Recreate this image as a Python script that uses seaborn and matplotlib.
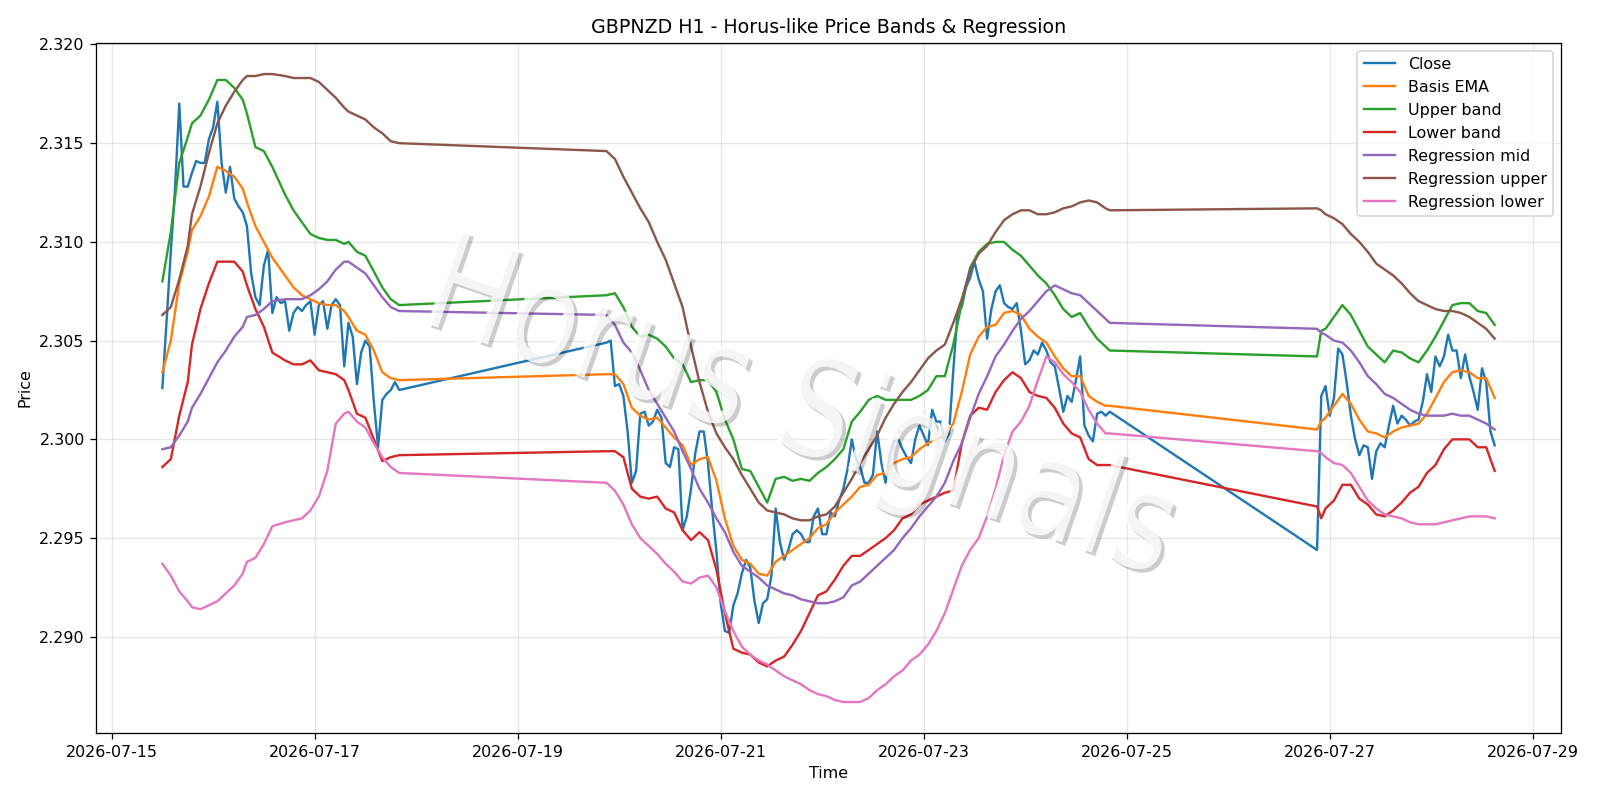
import pandas as pd
import matplotlib
matplotlib.use("Agg")
import matplotlib.pyplot as plt
import matplotlib.dates as mdates
import matplotlib.patheffects as pe
import matplotlib.colors as mcolors
from matplotlib.transforms import Affine2D
import seaborn as sns

# three trading sessions of hourly bars (weekends are skipped)
seg_starts = ["2026-07-15 12:00", "2026-07-19 21:00", "2026-07-26 21:00"]

close_seg1 = [2.3026, 2.3060, 2.3095, 2.3127, 2.3170, 2.3128, 2.3128, 2.3135, 2.3141, 2.3140,
              2.3140, 2.3152, 2.3158, 2.3171, 2.3140, 2.3125, 2.3138, 2.3122, 2.3118, 2.3115,
              2.3108, 2.3084, 2.3072, 2.3068, 2.3088, 2.3096, 2.3064, 2.3072, 2.3069, 2.3070,
              2.3055, 2.3064, 2.3067, 2.3065, 2.3068, 2.3070, 2.3053, 2.3068, 2.3070, 2.3056,
              2.3068, 2.3071, 2.3068, 2.3037, 2.3059, 2.3052, 2.3028, 2.3044, 2.3050, 2.3047,
              2.3019, 2.2996, 2.3020, 2.3023, 2.3025, 2.3029, 2.3025]
close_seg2 = [2.3049, 2.3050, 2.3027, 2.3028, 2.3022, 2.3004, 2.2978, 2.2984, 2.3013, 2.3014,
              2.3007, 2.3009, 2.3015, 2.3011, 2.2988, 2.2986, 2.2996, 2.2995, 2.2954, 2.2961,
              2.2975, 2.2993, 2.3004, 2.3004, 2.2988, 2.2964, 2.2943, 2.2917, 2.2903, 2.2902,
              2.2916, 2.2922, 2.2932, 2.2939, 2.2935, 2.2918, 2.2907, 2.2917, 2.2919, 2.2931,
              2.2965, 2.2948, 2.2939, 2.2944, 2.2952, 2.2954, 2.2952, 2.2948, 2.2948, 2.2961,
              2.2965, 2.2952, 2.2952, 2.2963, 2.2961, 2.2969, 2.2975, 2.2985, 2.3000, 2.2990,
              2.2986, 2.2978, 2.2978, 2.2982, 2.3004, 2.2988, 2.2978, 2.2992, 2.2999, 2.3000,
              2.2995, 2.2991, 2.2988, 2.3000, 2.3007, 2.3002, 2.2997, 2.3015, 2.3009, 2.3009,
              2.2999, 2.3003, 2.3035, 2.3064, 2.3067, 2.3077, 2.3082, 2.3090, 2.3081, 2.3075,
              2.3051, 2.3066, 2.3075, 2.3078, 2.3069, 2.3067, 2.3066, 2.3069, 2.3055, 2.3038,
              2.3040, 2.3045, 2.3043, 2.3049, 2.3045, 2.3039, 2.3037, 2.3026, 2.3014, 2.3022,
              2.3019, 2.3030, 2.3042, 2.3007, 2.3002, 2.2999, 2.3013, 2.3014, 2.3012, 2.3014]
close_seg3 = [2.2944, 2.3022, 2.3027, 2.3012, 2.3021, 2.3046, 2.3043, 2.3029, 2.3012, 2.3000,
              2.2992, 2.2997, 2.2996, 2.2980, 2.2994, 2.2998, 2.2996, 2.3007, 2.3017, 2.3008,
              2.3012, 2.3010, 2.3007, 2.3009, 2.3010, 2.3019, 2.3033, 2.3024, 2.3042, 2.3037,
              2.3042, 2.3053, 2.3045, 2.3045, 2.3031, 2.3043, 2.3032, 2.3024, 2.3015, 2.3036,
              2.3029, 2.3004, 2.2997]

# hours (from each session start) at which the indicator lines were read
ind_hours_seg1 = [0, 2, 4, 6, 7, 9, 11, 13, 15, 17, 19, 20, 22, 24, 26,
                  29, 31, 33, 35, 37, 39, 41, 43, 44, 46, 48, 50, 52, 54, 56]
ind_hours_seg2 = list(range(0, 119, 2)) + [119]
ind_hours_seg3 = [0, 1] + list(range(2, 43, 2))

basis_ema = [
    2.3034, 2.3050, 2.3079, 2.3095, 2.3106, 2.3113, 2.3123, 2.3138, 2.3136, 2.3133,
    2.3127, 2.3120, 2.3108, 2.3100, 2.3092, 2.3083, 2.3077, 2.3073, 2.3071, 2.3069,
    2.3068, 2.3068, 2.3065, 2.3062, 2.3055, 2.3053, 2.3045, 2.3034, 2.3031, 2.3030,
    2.3033, 2.3033, 2.3028, 2.3016, 2.3012, 2.3010, 2.3011, 2.3006, 2.3001, 2.2997,
    2.2987, 2.2990, 2.2991, 2.2979, 2.2960, 2.2946, 2.2939, 2.2937, 2.2932, 2.2931,
    2.2938, 2.2941, 2.2944, 2.2947, 2.2950, 2.2955, 2.2957, 2.2963, 2.2967, 2.2971,
    2.2976, 2.2977, 2.2982, 2.2983, 2.2988, 2.2990, 2.2991, 2.2995, 2.2998, 2.3000,
    2.3002, 2.3008, 2.3024, 2.3043, 2.3052, 2.3057, 2.3058, 2.3064, 2.3065, 2.3063,
    2.3056, 2.3052, 2.3049, 2.3042, 2.3036, 2.3032, 2.3032, 2.3022, 2.3019, 2.3017,
    2.3017,
    2.3005, 2.3009, 2.3011, 2.3017, 2.3023, 2.3018, 2.3010, 2.3004, 2.3003, 2.3001,
    2.3004, 2.3006, 2.3007, 2.3008, 2.3013, 2.3021, 2.3029, 2.3034, 2.3035, 2.3034,
    2.3031, 2.3031, 2.3021]
upper_band = [
    2.3080, 2.3105, 2.3140, 2.3153, 2.3160, 2.3164, 2.3172, 2.3182, 2.3182, 2.3178,
    2.3172, 2.3165, 2.3148, 2.3146, 2.3138, 2.3124, 2.3116, 2.3110, 2.3104, 2.3102,
    2.3101, 2.3101, 2.3099, 2.3100, 2.3095, 2.3093, 2.3085, 2.3077, 2.3071, 2.3068,
    2.3073, 2.3074, 2.3067, 2.3057, 2.3052, 2.3053, 2.3051, 2.3047, 2.3041, 2.3038,
    2.3029, 2.3030, 2.3030, 2.3024, 2.3010, 2.3000, 2.2985, 2.2984, 2.2976, 2.2968,
    2.2980, 2.2981, 2.2979, 2.2980, 2.2979, 2.2983, 2.2986, 2.2990, 2.2995, 2.3009,
    2.3014, 2.3020, 2.3022, 2.3020, 2.3020, 2.3020, 2.3020, 2.3022, 2.3025, 2.3032,
    2.3032, 2.3048, 2.3069, 2.3087, 2.3095, 2.3099, 2.3100, 2.3100, 2.3096, 2.3093,
    2.3088, 2.3083, 2.3079, 2.3073, 2.3066, 2.3062, 2.3064, 2.3057, 2.3051, 2.3047,
    2.3045,
    2.3042, 2.3055, 2.3056, 2.3062, 2.3068, 2.3063, 2.3055, 2.3047, 2.3043, 2.3039,
    2.3045, 2.3044, 2.3041, 2.3039, 2.3045, 2.3052, 2.3060, 2.3068, 2.3069, 2.3069,
    2.3065, 2.3064, 2.3058]
lower_band = [
    2.2986, 2.2990, 2.3012, 2.3029, 2.3048, 2.3066, 2.3079, 2.3090, 2.3090, 2.3090,
    2.3085, 2.3078, 2.3066, 2.3057, 2.3044, 2.3040, 2.3038, 2.3038, 2.3040, 2.3035,
    2.3034, 2.3033, 2.3030, 2.3025, 2.3013, 2.3011, 2.3000, 2.2989, 2.2991, 2.2992,
    2.2994, 2.2994, 2.2991, 2.2975, 2.2971, 2.2970, 2.2971, 2.2965, 2.2963, 2.2954,
    2.2949, 2.2953, 2.2949, 2.2934, 2.2912, 2.2894, 2.2892, 2.2891, 2.2887, 2.2885,
    2.2888, 2.2890, 2.2896, 2.2903, 2.2912, 2.2921, 2.2923, 2.2929, 2.2936, 2.2941,
    2.2941, 2.2944, 2.2947, 2.2950, 2.2954, 2.2960, 2.2962, 2.2967, 2.2969, 2.2971,
    2.2973, 2.2974, 2.2998, 2.3012, 2.3016, 2.3015, 2.3024, 2.3030, 2.3034, 2.3031,
    2.3024, 2.3022, 2.3021, 2.3016, 2.3008, 2.3003, 2.3001, 2.2990, 2.2987, 2.2987,
    2.2987,
    2.2966, 2.2960, 2.2965, 2.2969, 2.2977, 2.2977, 2.2970, 2.2967, 2.2962, 2.2961,
    2.2964, 2.2968, 2.2973, 2.2976, 2.2983, 2.2987, 2.2995, 2.3000, 2.3000, 2.3000,
    2.2996, 2.2996, 2.2984]
reg_mid = [
    2.2995, 2.2996, 2.3002, 2.3009, 2.3016, 2.3023, 2.3031, 2.3039, 2.3045, 2.3052,
    2.3057, 2.3062, 2.3063, 2.3066, 2.3070, 2.3071, 2.3071, 2.3071, 2.3073, 2.3076,
    2.3080, 2.3086, 2.3090, 2.3090, 2.3087, 2.3084, 2.3078, 2.3072, 2.3067, 2.3065,
    2.3063, 2.3058, 2.3049, 2.3044, 2.3035, 2.3025, 2.3018, 2.3011, 2.3004, 2.2994,
    2.2985, 2.2975, 2.2968, 2.2960, 2.2953, 2.2943, 2.2936, 2.2933, 2.2930, 2.2926,
    2.2924, 2.2922, 2.2921, 2.2919, 2.2918, 2.2917, 2.2917, 2.2918, 2.2920, 2.2926,
    2.2928, 2.2932, 2.2936, 2.2940, 2.2944, 2.2950, 2.2955, 2.2961, 2.2966, 2.2971,
    2.2978, 2.2989, 2.2998, 2.3011, 2.3023, 2.3032, 2.3042, 2.3048, 2.3055, 2.3061,
    2.3065, 2.3070, 2.3075, 2.3078, 2.3076, 2.3074, 2.3073, 2.3069, 2.3065, 2.3061,
    2.3059,
    2.3056, 2.3054, 2.3053, 2.3050, 2.3049, 2.3045, 2.3039, 2.3032, 2.3028, 2.3023,
    2.3021, 2.3018, 2.3015, 2.3013, 2.3012, 2.3012, 2.3012, 2.3013, 2.3012, 2.3012,
    2.3010, 2.3008, 2.3005]
reg_upper = [
    2.3063, 2.3067, 2.3081, 2.3098, 2.3114, 2.3128, 2.3145, 2.3160, 2.3169, 2.3176,
    2.3182, 2.3184, 2.3184, 2.3185, 2.3185, 2.3184, 2.3183, 2.3183, 2.3183, 2.3181,
    2.3177, 2.3173, 2.3168, 2.3166, 2.3164, 2.3162, 2.3158, 2.3155, 2.3151, 2.3150,
    2.3146, 2.3142, 2.3133, 2.3125, 2.3117, 2.3110, 2.3100, 2.3091, 2.3079, 2.3067,
    2.3047, 2.3029, 2.3014, 2.3003, 2.2996, 2.2990, 2.2982, 2.2975, 2.2968, 2.2964,
    2.2963, 2.2962, 2.2960, 2.2959, 2.2959, 2.2961, 2.2962, 2.2966, 2.2973, 2.2980,
    2.2988, 2.2995, 2.3002, 2.3011, 2.3018, 2.3024, 2.3029, 2.3035, 2.3041, 2.3045,
    2.3048, 2.3059, 2.3071, 2.3086, 2.3094, 2.3098, 2.3105, 2.3111, 2.3114, 2.3116,
    2.3116, 2.3114, 2.3114, 2.3115, 2.3117, 2.3118, 2.3120, 2.3121, 2.3120, 2.3117,
    2.3116,
    2.3117, 2.3116, 2.3114, 2.3112, 2.3109, 2.3104, 2.3100, 2.3095, 2.3089, 2.3086,
    2.3083, 2.3079, 2.3074, 2.3070, 2.3068, 2.3066, 2.3065, 2.3065, 2.3064, 2.3062,
    2.3059, 2.3056, 2.3051]
reg_lower = [
    2.2937, 2.2931, 2.2923, 2.2918, 2.2915, 2.2914, 2.2916, 2.2918, 2.2922, 2.2926,
    2.2932, 2.2938, 2.2940, 2.2947, 2.2956, 2.2958, 2.2959, 2.2960, 2.2964, 2.2971,
    2.2984, 2.3008, 2.3013, 2.3014, 2.3009, 2.3006, 2.2998, 2.2991, 2.2986, 2.2983,
    2.2978, 2.2974, 2.2967, 2.2957, 2.2950, 2.2946, 2.2942, 2.2937, 2.2933, 2.2928,
    2.2927, 2.2930, 2.2931, 2.2925, 2.2913, 2.2903, 2.2895, 2.2891, 2.2888, 2.2886,
    2.2883, 2.2880, 2.2878, 2.2876, 2.2873, 2.2871, 2.2870, 2.2868, 2.2867, 2.2867,
    2.2867, 2.2869, 2.2873, 2.2876, 2.2880, 2.2883, 2.2888, 2.2891, 2.2896, 2.2903,
    2.2912, 2.2924, 2.2936, 2.2944, 2.2950, 2.2961, 2.2975, 2.2992, 2.3004, 2.3009,
    2.3017, 2.3030, 2.3042, 2.3039, 2.3033, 2.3029, 2.3024, 2.3015, 2.3008, 2.3003,
    2.3003,
    2.2994, 2.2993, 2.2991, 2.2988, 2.2987, 2.2983, 2.2976, 2.2969, 2.2965, 2.2962,
    2.2961, 2.2960, 2.2958, 2.2957, 2.2957, 2.2957, 2.2958, 2.2959, 2.2960, 2.2961,
    2.2961, 2.2961, 2.2960]


class SqueezedShadow(pe.AbstractPathEffect):
    """Narrow the glyphs horizontally and draw a soft drop shadow under them."""

    def __init__(self, sx=0.83, offset=(3, -3), shadow_color="black", shadow_alpha=0.25):
        super().__init__()
        self.sx = sx
        self.shadow_offset = offset
        self.shadow_color = shadow_color
        self.shadow_alpha = shadow_alpha

    def draw_path(self, renderer, gc, tpath, affine, rgbFace=None):
        ext = tpath.get_extents()
        cx = 0.5 * (ext.x0 + ext.x1)
        squeeze = Affine2D().translate(-cx, 0).scale(self.sx, 1).translate(cx, 0)
        ox = renderer.points_to_pixels(self.shadow_offset[0])
        oy = renderer.points_to_pixels(self.shadow_offset[1])
        gc0 = renderer.new_gc()
        gc0.copy_properties(gc)
        gc0.set_alpha(self.shadow_alpha)
        gc0.set_linewidth(0)
        renderer.draw_path(gc0, tpath, squeeze + affine + Affine2D().translate(ox, oy),
                           mcolors.to_rgba(self.shadow_color))
        gc0.restore()
        renderer.draw_path(gc, tpath, squeeze + affine, rgbFace)


# build the time axes
close_vals = close_seg1 + close_seg2 + close_seg3
close_time = pd.DatetimeIndex([])
for start, seg in zip(seg_starts, [close_seg1, close_seg2, close_seg3]):
    close_time = close_time.append(pd.date_range(start, periods=len(seg), freq="h"))

ind_time = pd.DatetimeIndex([])
for start, hrs in zip(seg_starts, [ind_hours_seg1, ind_hours_seg2, ind_hours_seg3]):
    ind_time = ind_time.append(pd.Timestamp(start) + pd.to_timedelta(hrs, unit="h"))

fig, ax = plt.subplots(figsize=(14, 7))

sns.lineplot(x=close_time, y=close_vals, ax=ax, color="C0", linewidth=1.5, label="Close")
series = [
    ("Basis EMA", basis_ema, "C1"),
    ("Upper band", upper_band, "C2"),
    ("Lower band", lower_band, "C3"),
    ("Regression mid", reg_mid, "C4"),
    ("Regression upper", reg_upper, "C5"),
    ("Regression lower", reg_lower, "C6"),
]
for name, vals, col in series:
    sns.lineplot(x=ind_time, y=vals, ax=ax, color=col, linewidth=1.5, label=name)

# watermark
ax.text(0.48, 0.465, "Horus Signals", transform=ax.transAxes, rotation=-19,
        fontsize=86, color="white", alpha=0.82, ha="center", va="center", zorder=4,
        path_effects=[SqueezedShadow(sx=0.84, offset=(2.2, -2.2), shadow_alpha=0.2)])

ax.xaxis.set_major_locator(mdates.DayLocator(bymonthday=range(1, 32, 2)))
ax.xaxis.set_major_formatter(mdates.DateFormatter("%Y-%m-%d"))
ax.set_title("GBPNZD H1 - Horus-like Price Bands & Regression")
ax.set_xlabel("Time")
ax.set_ylabel("Price")
ax.grid(True, alpha=0.3)
ax.legend(loc="upper right")

plt.tight_layout()
fig.savefig("out.png", dpi=1600 / 14)
